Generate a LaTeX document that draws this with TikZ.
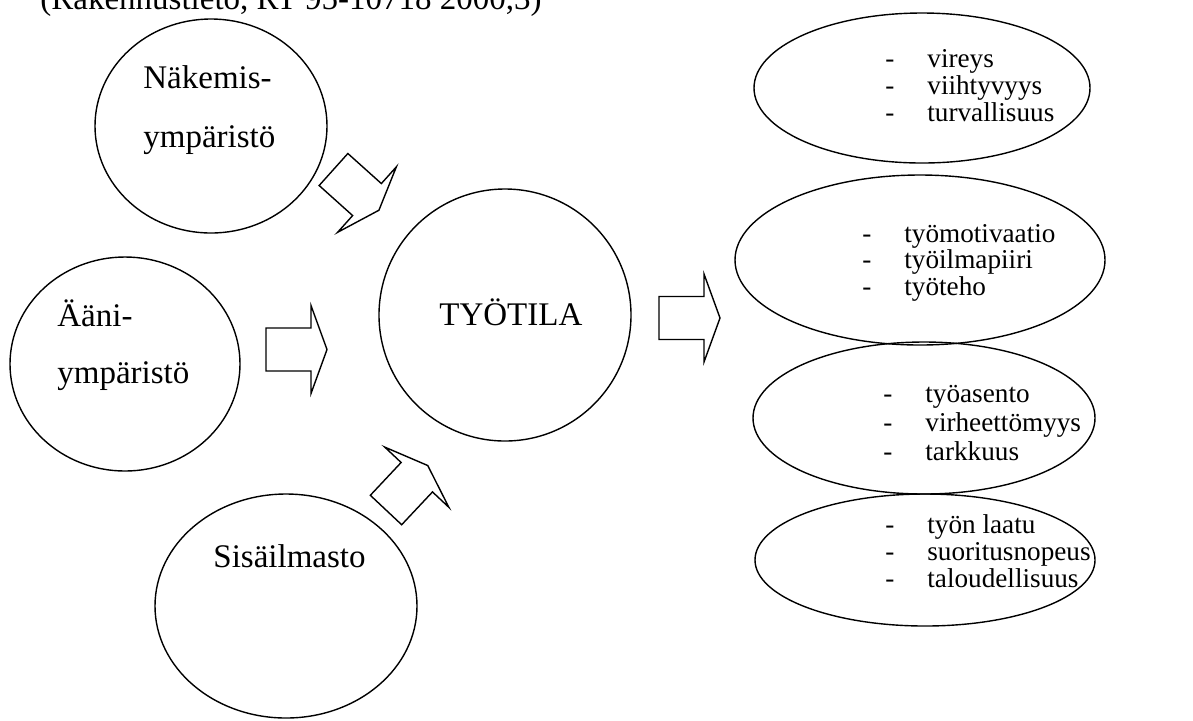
\documentclass[tikz,border=0pt]{standalone}
\usepackage{fontspec}
\setmainfont{Liberation Serif}
\usetikzlibrary{shapes.geometric}
\tikzset{
  blob/.style={draw, ellipse, inner sep=0pt, line width=0.7pt},
  lbl/.style={anchor=base west, inner sep=0pt, font=\fontsize{16.5}{20}\selectfont},
  lst/.style={anchor=base west, inner sep=0pt, font=\fontsize{13.6}{14}\selectfont},
  blockarrow/.pic={\draw[line width=0.7pt, line join=miter] (0,-21.5) -- (45,-21.5) -- (45,-44) -- (61,0) -- (45,44) -- (45,21.5) -- (0,21.5) -- cycle;}
}
\newcommand{\itm}[1]{\makebox[21pt][l]{-}#1}
\begin{document}
\begin{tikzpicture}[x=0.5pt,y=0.5pt]
\useasboundingbox (0,0) rectangle (1193,-720);
% caption (cut at top)
\node[lbl] (src) at (40,-9) {(Rakennustieto, RT 95-10718 2000,3)};
% circles
\node[blob, minimum width=116pt, minimum height=107pt] (nak) at (211,-126) {};
\node[blob, minimum width=115pt, minimum height=107pt] (aan) at (125,-364) {};
\node[blob, minimum width=131pt, minimum height=112pt] (sis) at (286,-606) {};
\node[blob, minimum width=126pt, minimum height=126pt] (tyo) at (505,-315) {};
% circle labels
\node[lbl] (nak1) at (143,-88) {Näkemis-};
\node[lbl] (nak2) at (143,-147) {ympäristö};
\node[lbl] (aan1) at (57,-326) {Ääni-};
\node[lbl] (aan2) at (57,-383) {ympäristö};
\node[lbl] (sis1) at (213,-567) {Sisäilmasto};
\node[lbl] (tyo1) at (439,-325) {TYÖTILA};
% block arrows
\pic at (333.5,-169.5) [rotate=-41.9] {blockarrow};
\pic at (266,-349.5) {blockarrow};
\pic at (386,-510) [rotate=46.8] {blockarrow};
\pic at (659,-318) {blockarrow};
% result ellipses
\node[blob, minimum width=168pt, minimum height=75pt] (e1) at (922,-88) {};
\node[blob, minimum width=185pt, minimum height=85pt] (e2) at (920,-260) {};
\node[blob, minimum width=171pt, minimum height=76pt] (e3) at (924,-418) {};
\node[blob, minimum width=170pt, minimum height=66pt] (e4) at (925,-560) {};
% lists
\node[lst] (e1a) at (885,-67) {\itm{vireys}};
\node[lst] (e1b) at (885,-94) {\itm{viihtyvyys}};
\node[lst] (e1c) at (885,-121) {\itm{turvallisuus}};
\node[lst] (e2a) at (862,-242) {\itm{työmotivaatio}};
\node[lst] (e2b) at (862,-268) {\itm{työilmapiiri}};
\node[lst] (e2c) at (862,-295) {\itm{työteho}};
\node[lst] (e3a) at (883,-402) {\itm{työasento}};
\node[lst] (e3b) at (883,-431) {\itm{virheettömyys}};
\node[lst] (e3c) at (883,-460) {\itm{tarkkuus}};
\node[lst] (e4a) at (885,-533) {\itm{työn laatu}};
\node[lst] (e4b) at (885,-560) {\itm{suoritusnopeus}};
\node[lst] (e4c) at (885,-587) {\itm{taloudellisuus}};
\end{tikzpicture}
\end{document}
